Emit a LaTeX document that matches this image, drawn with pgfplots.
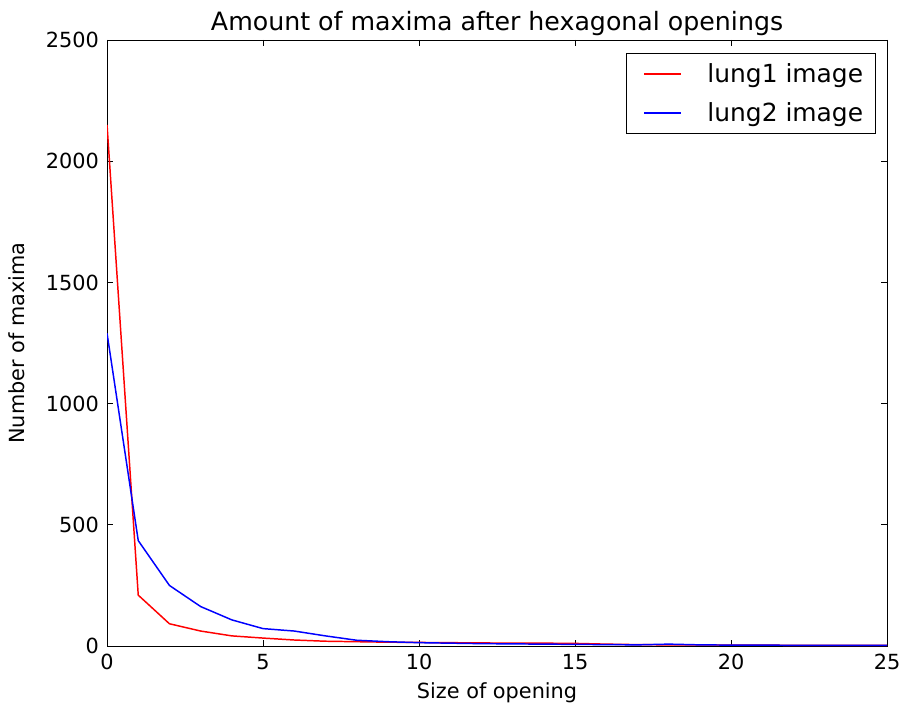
\documentclass[border=0pt]{standalone}
\usepackage{fontspec}
\setmainfont{DejaVu Sans}
\usepackage{pgfplots}
\pgfplotsset{compat=1.18}

\begin{document}
\begin{tikzpicture}
  \begin{axis}[
      scale only axis,
      width=475.8pt, height=369.7pt,
      xmin=0, xmax=25, ymin=0, ymax=2500,
      xtick={0,5,...,25}, ytick={0,500,...,2500},
      tick align=inside, major tick length=3.5pt,
      tick style={black, line width=0.5pt},
      axis line style={line width=0.6pt},
      /pgf/number format/assume math mode=true,
      /pgf/number format/set thousands separator={},
      tick label style={font=\fontsize{12.7}{15}\selectfont},
      xticklabel style={yshift=-1.5pt},
      yticklabel style={xshift=-1.5pt},
      title={Amount of maxima after hexagonal openings},
      title style={font=\fontsize{15.4}{18}\selectfont, anchor=base, at={(0.5,1)}, yshift=-0.5pt},
      xlabel={Size of opening}, ylabel={Number of maxima},
      label style={font=\fontsize{12.7}{15}\selectfont},
      xlabel style={yshift=-1pt},
      ylabel style={yshift=6pt},
      legend style={at={(1,1)}, anchor=north east, xshift=-7pt, yshift=-7.8pt,
        font=\fontsize{15.2}{18}\selectfont, draw=black, line width=0.6pt,
        inner xsep=5.3pt, inner ysep=4pt, row sep=6.8pt, column sep=13.5pt},
      legend cell align=left,
      legend image code/.code={\path (-5pt,0pt); \draw[#1] (0pt,0pt) -- (22.5pt,0pt);},
    ]
    \addplot[color=red, line width=0.9pt] coordinates {
      (0,2150) (1,210) (2,92) (3,62) (4,42) (5,33) (6,25) (7,20) (8,18) (9,16)
      (10,15) (11,14) (12,13) (13,12) (14,12) (15,11) (16,8) (17,6) (18,5) (19,5)
      (20,4) (21,4) (22,3) (23,3) (24,3) (25,3)};
    \addlegendentry{lung1 image}
    \addplot[color=blue, line width=0.9pt] coordinates {
      (0,1290) (1,435) (2,250) (3,163) (4,108) (5,72) (6,62) (7,42) (8,24) (9,18)
      (10,14) (11,12) (12,10) (13,9) (14,8) (15,7) (16,6) (17,5) (18,8) (19,5)
      (20,4) (21,4) (22,3) (23,3) (24,3) (25,3)};
    \addlegendentry{lung2 image}
  \end{axis}
  \pgfresetboundingbox
  \path ([shift={(-65.3pt,-36.6pt)}]current axis.south west)
    rectangle ([shift={(8.5pt,24.4pt)}]current axis.north east);
\end{tikzpicture}
\end{document}
